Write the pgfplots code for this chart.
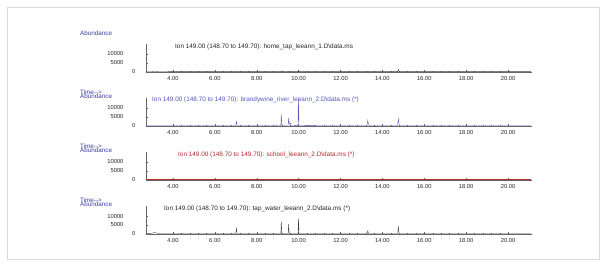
\documentclass[border=0pt]{standalone}
\usepackage{fontspec}
\setmainfont{Liberation Sans}
\usepackage{pgfplots}
\pgfplotsset{compat=1.18}
\definecolor{labblue}{RGB}{60,60,160}
\definecolor{trblue}{RGB}{85,85,185}
\definecolor{trred}{RGB}{175,45,45}
\definecolor{trgray}{RGB}{60,60,60}
\pgfplotsset{chrom/.style={
  scale only axis, width=385.7pt, height=27.9pt,
  xmin=2.71, xmax=21.13, ymin=0, ymax=15500,
  axis x line=bottom, axis y line=left,
  axis line style={black!60, line width=0.4pt, -},
  xtick={4,6,...,20},
  xticklabels={4.00,6.00,8.00,10.00,12.00,14.00,16.00,18.00,20.00},
  minor x tick num=4,
  scaled y ticks=false,
  ytick={5000,10000}, yticklabels={5000,10000},
  extra y ticks={0}, extra y tick labels={0},
  extra y tick style={yticklabel style={xshift=12pt}},
  minor y tick num=4,
  tick align=inside,
  major tick length=2.5pt, minor tick length=1.2pt,
  tick style={black!60, line width=0.3pt},
  ticklabel style={font=\fontsize{5.8}{6}\selectfont, text=black!85},
  x tick label style={yshift=-1pt},
  y tick label style={xshift=-19pt},
  clip=false,
}}
\begin{document}
\begin{tikzpicture}[x=1pt,y=1pt]
\path[use as bounding box] (0,0) rectangle (606,266);
\draw[black!15, line width=0.5pt] (7,7) rectangle (599,259);
\tikzset{lab/.style={anchor=west, inner sep=0pt, font=\fontsize{6.3}{7}\selectfont, text=labblue},
         ttl/.style={anchor=west, inner sep=0pt, font=\fontsize{6.4}{7}\selectfont}}
% Panel 1
\begin{axis}[chrom, at={(146pt,194pt)}, anchor=south west]
\addplot[trgray, line width=0.35pt] coordinates {
(2.72,250)(3.0,300)(3.15,450)(3.3,300)(4,200)(5,220)(6,200)(7.0,220)(7.03,500)(7.06,220)(8,200)
(9.15,220)(9.17,700)(9.2,220)(9.5,220)(9.52,500)(9.55,220)(9.97,220)(9.99,700)(10.02,220)(12,200)
(13.28,200)(13.3,400)(13.33,200)(14.73,200)(14.76,1500)(14.79,200)(16,200)(18,200)(20,200)(21.1,200)};
\end{axis}
% Panel 2
\begin{axis}[chrom, at={(146pt,140pt)}, anchor=south west]
\addplot[trblue, line width=0.35pt] coordinates {
(2.72,250)(4,250)(6,250)(7.0,250)(7.03,2500)(7.06,300)(8,300)(8.9,300)(8.95,700)(9.0,300)
(9.15,300)(9.17,6500)(9.2,500)(9.5,400)(9.52,4300)(9.56,1000)(9.6,1500)(9.64,400)(9.97,350)
(9.99,14800)(10.02,400)(11,300)(13.27,300)(13.3,3200)(13.34,600)(13.4,300)(14.73,300)(14.76,4000)
(14.8,500)(14.85,300)(16,300)(18,280)(20,280)(21.1,280)};
\end{axis}
% Panel 3
\begin{axis}[chrom, at={(146pt,86pt)}, anchor=south west]
\addplot[trred, line width=0.35pt] coordinates {
(2.72,200)(4,200)(6,200)(8,200)(10,200)(12,200)(14,200)(16,200)(18,200)(20,200)(21.1,200)};
\end{axis}
% Panel 4
\begin{axis}[chrom, at={(146pt,32pt)}, anchor=south west]
\addplot[trgray, line width=0.35pt] coordinates {
(2.72,300)(3.0,400)(3.1,800)(3.2,600)(3.35,300)(5,250)(7.0,250)(7.03,3300)(7.06,300)(9.15,300)
(9.17,7000)(9.2,300)(9.5,300)(9.52,5500)(9.55,300)(9.97,300)(9.99,8500)(10.02,300)(13.27,250)
(13.3,1800)(13.34,250)(14.73,250)(14.76,4300)(14.79,400)(14.84,250)(16,250)(21.1,250)};
\end{axis}
% labels
\node[lab] at (80,233) {Abundance};
\node[lab] at (80,173.5) {Time-{}->};
\node[lab] at (80,169.5) {Abundance};
\node[lab] at (80,119.5) {Time-{}->};
\node[lab] at (80,115.5) {Abundance};
\node[lab] at (80,65.5) {Time-{}->};
\node[lab] at (80,61.5) {Abundance};
% titles
\node[ttl, text=black!85] at (175,219) {Ion 149.00 (148.70 to 149.70): home\_tap\_leeann\_1.D\textbackslash data.ms};
\node[ttl, text=trblue] at (152,166) {Ion 149.00 (148.70 to 149.70): brandywine\_river\_leeann\_2.D\textbackslash data.ms (*)};
\node[ttl, text=trred] at (178,111) {Ion 149.00 (148.70 to 149.70): school\_leeann\_2.D\textbackslash data.ms (*)};
\node[ttl, text=black!85] at (164,57) {Ion 149.00 (148.70 to 149.70): tap\_water\_leeann\_2.D\textbackslash data.ms (*)};
\end{tikzpicture}
\end{document}
